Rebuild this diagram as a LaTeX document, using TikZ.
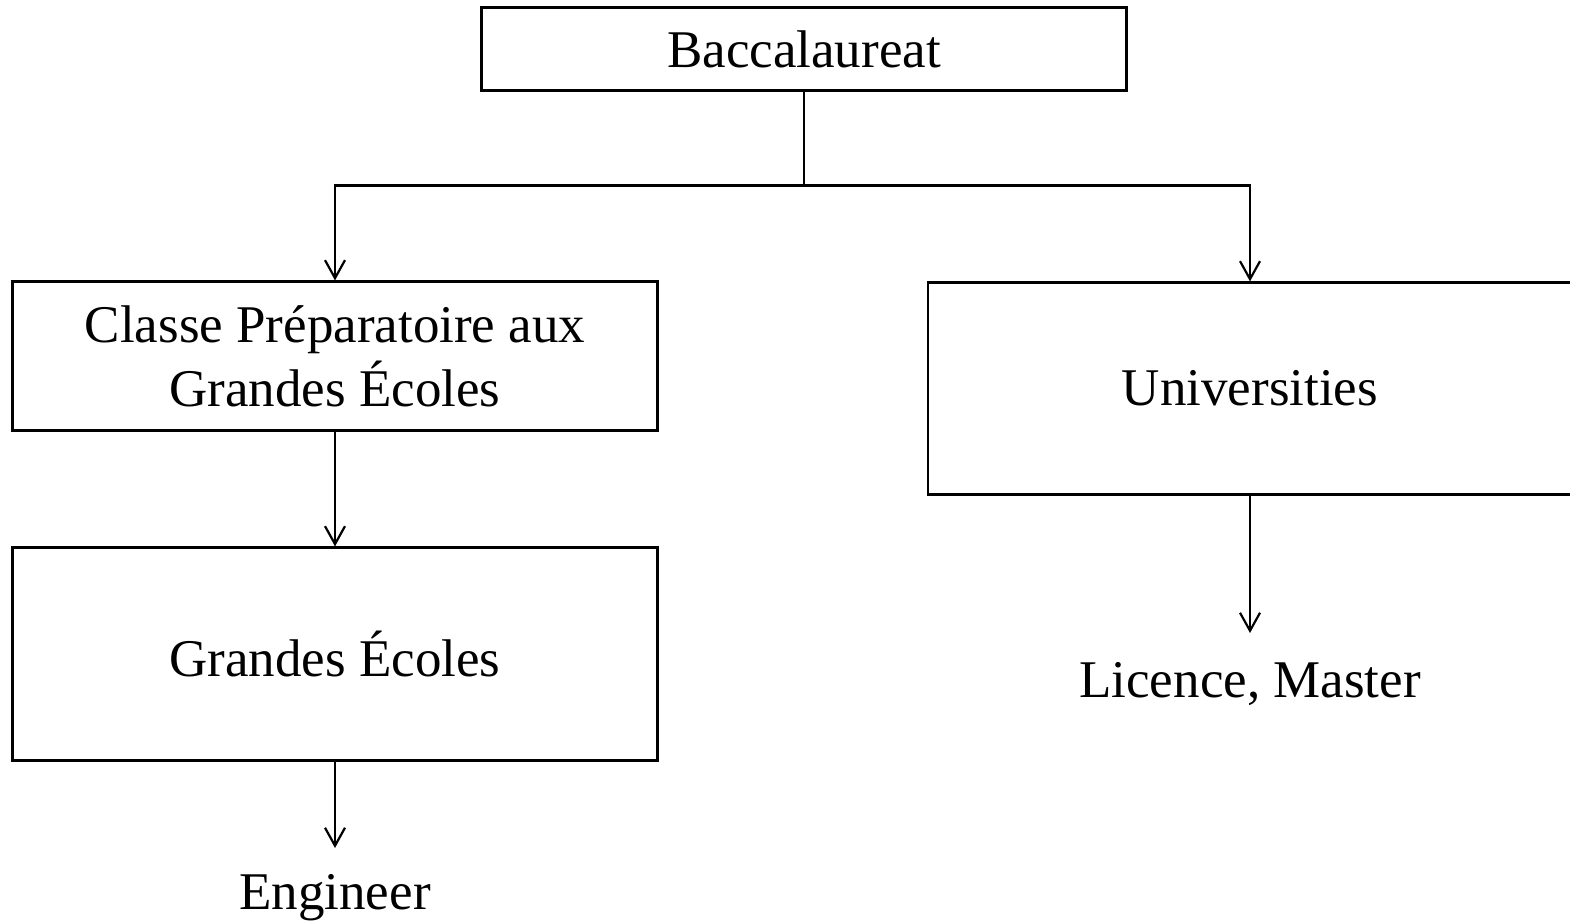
\documentclass[tikz,border=0pt]{standalone}
\usepackage{fontspec}
\setmainfont{Liberation Serif}
\usetikzlibrary{arrows.meta}
\begin{document}
\begin{tikzpicture}[x=0.5pt,y=-0.5pt,
  box/.style={draw, line width=1.1pt, rectangle, inner sep=0pt, align=center,
    font=\fontsize{26.5}{32}\selectfont},
  lbl/.style={inner sep=0pt, align=center, font=\fontsize{26.5}{32}\selectfont},
  conn/.style={line width=1.1pt},
  arr/.style={conn, -{Straight Barb[length=9pt,width=10pt,line width=1.1pt]}}]
\useasboundingbox (0,0) rectangle (1570,923);
\node[box, minimum width=322.5pt, minimum height=41.5pt] (bac) at (804,49) {Baccalaureat};
\node[box, minimum width=322.5pt, minimum height=74.5pt] (cpge) at (335,356) {Classe Préparatoire aux\\Grandes Écoles};
\node[box, minimum width=322.5pt, minimum height=106.5pt] (ge) at (335,654) {Grandes Écoles};
\node[box, minimum width=322pt, minimum height=106pt] (univ) at (1250,388.5) {Universities};
\node[lbl] (eng) at (335,898) {Engineer};
\node[lbl] (lic) at (1250,684) {Licence, Master};
\coordinate (j) at (804,185.5);
\coordinate (engtop) at (335,848);
\coordinate (lictop) at (1250,633);
\draw[conn] (bac.south) -- (j);
\draw[arr] (j) -| (cpge.north);
\draw[arr] (j) -| (univ.north);
\draw[arr] (cpge.south) -- (ge.north);
\draw[arr] (ge.south) -- (engtop);
\draw[arr] (univ.south) -- (lictop);
\end{tikzpicture}
\end{document}
